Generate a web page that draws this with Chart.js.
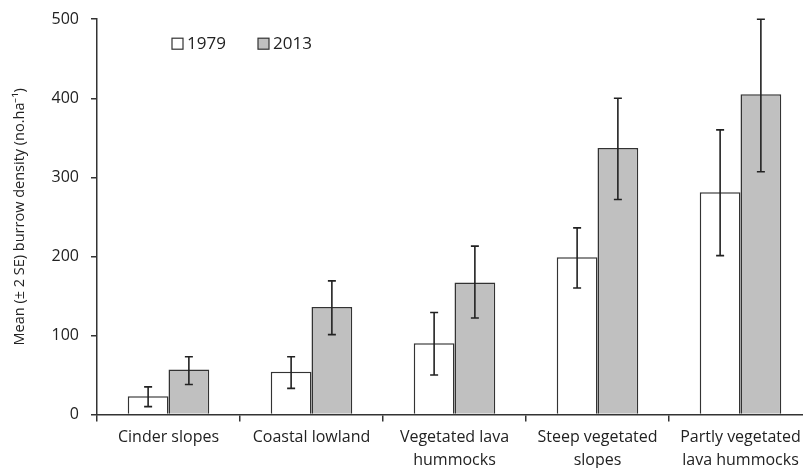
<!DOCTYPE html>
<html>
<head>
<meta charset="utf-8">
<script src="https://cdn.jsdelivr.net/npm/chart.js@4/dist/chart.umd.min.js"></script>
<style>
  html, body { margin: 0; padding: 0; background: #fff; overflow: hidden; }
  #wrap { position: relative; width: 812px; height: 468px; }
</style>
</head>
<body>
<div id="wrap"><canvas id="burrowChart" width="812" height="468"></canvas></div>
<script>
const habitats = [
  "Cinder slopes",
  "Coastal lowland",
  ["Vegetated lava", "hummocks"],
  ["Steep vegetated", "slopes"],
  ["Partly vegetated", "lava hummocks"]
];
const years = ["1979", "2013"];

// mean burrow density per habitat
const mean1979 = [23, 54, 90, 199, 281];
const mean2013 = [57, 136, 167, 337, 405];

// ± 2 SE limits
const low1979 = [10, 33, 50, 160, 201];
const high1979 = [35, 73, 129, 236, 360];
const low2013 = [38, 101, 122, 272, 307];
const high2013 = [73, 169, 213, 400, 500];

const yTicks = [0, 100, 200, 300, 400, 500];

const FONT = "'Open Sans', sans-serif";
const INK = "#333";

// whiskers drawn from the scales, on top of the bars
const errorBars = {
  id: "errorBars",
  afterDatasetsDraw(chart) {
    const c = chart.ctx;
    const y = chart.scales.y;
    const limits = [[low1979, high1979], [low2013, high2013]];
    c.save();
    c.strokeStyle = "#222";
    c.lineWidth = 1.6;
    limits.forEach((lim, di) => {
      chart.getDatasetMeta(di).data.forEach((bar, i) => {
        const x = bar.x;
        const yLo = y.getPixelForValue(lim[0][i]);
        const yHi = y.getPixelForValue(lim[1][i]);
        c.beginPath();
        c.moveTo(x, yLo); c.lineTo(x, yHi);
        c.moveTo(x - 4, yLo); c.lineTo(x + 4, yLo);
        c.moveTo(x - 4, yHi); c.lineTo(x + 4, yHi);
        c.stroke();
      });
    });
    c.restore();
  }
};

// legend placed inside the plot, top left
const innerLegend = {
  id: "innerLegend",
  afterDraw(chart) {
    const c = chart.ctx;
    const area = chart.chartArea;
    let x = area.left + 75;
    const top = area.top + 19;
    c.save();
    c.font = "17px " + FONT;
    c.textBaseline = "middle";
    chart.data.datasets.forEach(ds => {
      c.fillStyle = ds.backgroundColor;
      c.strokeStyle = INK;
      c.lineWidth = 1.2;
      c.fillRect(x, top, 11, 11);
      c.strokeRect(x, top, 11, 11);
      c.fillStyle = "#222";
      c.fillText(ds.label, x + 15, top + 6);
      x += 86;
    });
    c.restore();
  }
};

new Chart(document.getElementById("burrowChart"), {
  type: "bar",
  data: {
    labels: habitats,
    datasets: [
      {
        label: years[0],
        data: mean1979,
        backgroundColor: "#ffffff",
        borderColor: INK,
        borderWidth: 1.5
      },
      {
        label: years[1],
        data: mean2013,
        backgroundColor: "#c0c0c0",
        borderColor: INK,
        borderWidth: 1.5
      }
    ]
  },
  options: {
    responsive: false,
    animation: false,
    devicePixelRatio: 1,
    layout: { padding: { top: 12, left: 0, right: 0, bottom: 0 } },
    datasets: { bar: { categoryPercentage: 0.57, barPercentage: 1.0 } },
    plugins: {
      legend: { display: false },
      tooltip: { enabled: false }
    },
    scales: {
      x: {
        grid: { offset: true, drawOnChartArea: false, tickLength: 7, color: INK, lineWidth: 1.5 },
        border: { color: INK, width: 1.5 },
        ticks: { color: "#222", font: { family: FONT, size: 16, lineHeight: 1.4 }, maxRotation: 0, autoSkip: false, padding: 5 },
        afterFit(scale) { scale.height = 53.5; }
      },
      y: {
        min: 0,
        max: 500,
        afterBuildTicks(scale) { scale.ticks = yTicks.map(v => ({ value: v })); },
        grid: { drawOnChartArea: false, tickLength: 6, color: INK, lineWidth: 1.5 },
        border: { color: INK, width: 1.5 },
        ticks: { color: "#222", font: { family: FONT, size: 16, lineHeight: 0.9 }, padding: 12 },
        title: {
          display: true,
          text: "Mean (± 2 SE) burrow density (no.ha⁻¹)",
          color: "#222",
          font: { family: FONT, size: 14.5 },
          padding: { top: 11, bottom: 0 }
        },
        afterFit(scale) { scale.width = 97; }
      }
    }
  },
  plugins: [errorBars, innerLegend]
});
</script>
</body>
</html>
